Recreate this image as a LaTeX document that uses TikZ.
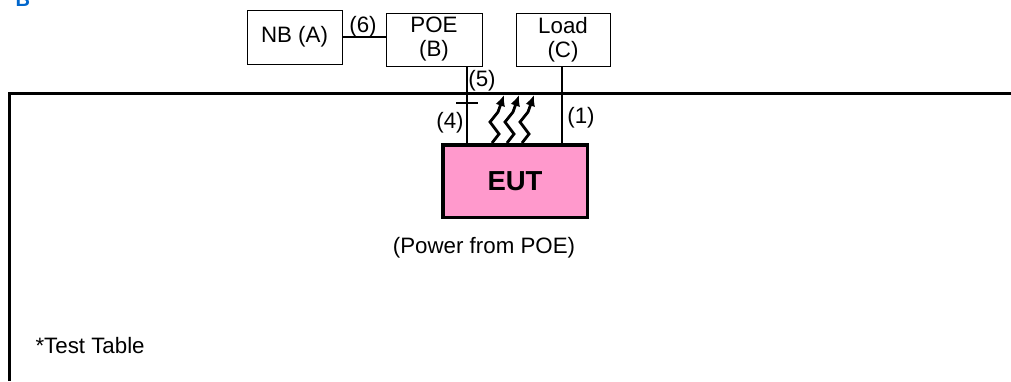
\documentclass[tikz,border=0pt]{standalone}
\usepackage{fontspec}
\setmainfont{Liberation Sans}
\usetikzlibrary{arrows.meta}
\definecolor{eutpink}{RGB}{255,153,204}
\definecolor{titleblue}{RGB}{0,102,204}
\newcommand{\lbl}{\fontsize{22.3}{24}\selectfont}

\begin{document}
\begin{tikzpicture}[x=1pt,y=-1pt,
		box/.style={draw,line width=1pt,align=center,inner sep=0pt,font=\lbl},
		lead/.style={line width=1.2pt},
		tbl/.style={line width=3pt,line join=miter},
		wave/.style={line width=2.8pt,line join=miter,-{Latex[length=11pt,width=10pt]}}]
			\useasboundingbox (0,0) rectangle (1011,381);
			\node[anchor=base west,text=titleblue,font=\fontsize{20}{24}\selectfont\bfseries] (title) at (12,6) {B};
			\draw[tbl] (9,381) -- (9,93) -- (1011,93);
			\node[box,minimum width=95pt,minimum height=54pt] (nb) at (294.5,37) {NB (A)};
			\node[box,minimum width=96pt,minimum height=53pt] (poe) at (434,39.5) {POE\\(B)};
			\node[box,minimum width=94pt,minimum height=53pt] (load) at (563,39.5) {Load\\(C)};
			\node[draw,line width=3.5pt,fill=eutpink,minimum width=144.5pt,minimum height=72.5pt,font=\fontsize{27.5}{30}\selectfont\bfseries] (eut) at (515,181) {EUT};
			\coordinate (c4) at ([xshift=26pt]eut.north west);
			\coordinate (c1) at ([xshift=-27pt]eut.north east);
			\coordinate (t4) at (c4 |- 0,103);
			\draw[lead] (nb.east) -- (nb.east -| poe.west);
			\draw[lead] (poe.south -| c4) -- (c4);
			\draw[lead] (load.south -| c1) -- (c1);
			\draw[lead] ([xshift=-11pt]t4) -- ([xshift=11pt]t4);
			\foreach \dx in {-23,-8,7}
				\draw[wave] ([xshift=\dx pt]eut.north) -- ++(7,-9) -- ++(-9,-12) -- ++(8,-10) -- ++(6,-17);
			\node[font=\lbl] (l6) at (363,27) {(6)};
			\node[font=\lbl] (l5) at (482,81) {(5)};
			\node[font=\lbl] (l4) at (450,123) {(4)};
			\node[font=\lbl] (l1) at (581,117.5) {(1)};
			\node[font=\lbl] (pwr) at (484,248) {(Power from POE)};
			\node[font=\lbl,anchor=base west] (tt) at (32,353) {*Test Table};
		\end{tikzpicture}
\end{document}
